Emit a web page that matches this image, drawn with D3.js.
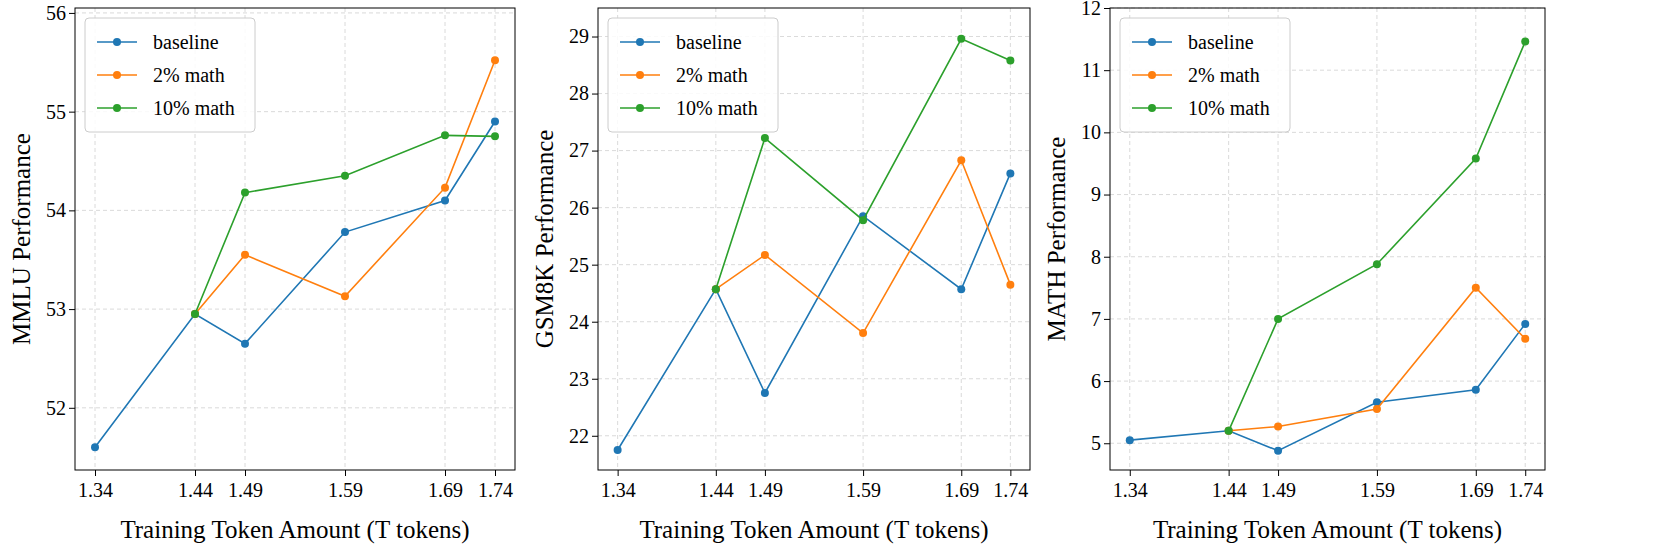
<!DOCTYPE html>
<html><head><meta charset="utf-8">
<script src="https://cdn.jsdelivr.net/npm/d3@7"></script>
<style>body{margin:0;background:#fff}text{font-family:"Liberation Serif","DejaVu Serif",serif}</style>
</head><body><svg id="c" width="1661" height="554"></svg>
<script>
const tokens = [1.34, 1.44, 1.49, 1.59, 1.69, 1.74];
const tickLabels = ['1.34', '1.44', '1.49', '1.59', '1.69', '1.74'];
const seriesNames = ['baseline', '2% math', '10% math'];
const colors = ['#1f77b4', '#ff7f0e', '#2ca02c'];

const mmluBase = [51.6, 52.95, 52.65, 53.78, 54.1, 54.9];
const mmlu2 = [null, 52.95, 53.55, 53.13, 54.23, 55.52];
const mmlu10 = [null, 52.95, 54.18, 54.35, 54.76, 54.75];
const gsmBase = [21.75, 24.57, 22.75, 25.85, 24.57, 26.6];
const gsm2 = [null, 24.57, 25.17, 23.8, 26.83, 24.65];
const gsm10 = [null, 24.57, 27.22, 25.78, 28.96, 28.58];
const mathBase = [5.05, 5.2, 4.88, 5.66, 5.86, 6.92];
const math2 = [null, 5.2, 5.27, 5.55, 7.5, 6.68];
const math10 = [null, 5.2, 7.0, 7.88, 9.58, 11.46];

const panels = [
  {label: 'MMLU Performance', series: [mmluBase, mmlu2, mmlu10], dom: [51.37, 56.05], ticks: [52, 53, 54, 55, 56], left: 75, right: 515},
  {label: 'GSM8K Performance', series: [gsmBase, gsm2, gsm10], dom: [21.4, 29.5], ticks: [22, 23, 24, 25, 26, 27, 28, 29], left: 598, right: 1030},
  {label: 'MATH Performance', series: [mathBase, math2, math10], dom: [4.57, 12.0], ticks: [5, 6, 7, 8, 9, 10, 11, 12], left: 1110, right: 1545}
];

const svg = d3.select('#c');
const plotTop = 8, plotBottom = 470;

panels.forEach(p => {
  const x = d3.scaleLinear().domain([1.32, 1.76]).range([p.left, p.right]);
  const y = d3.scaleLinear().domain(p.dom).range([plotBottom, plotTop]);
  const g = svg.append('g');

  // grid
  g.selectAll('.gx').data(tokens).join('line')
    .attr('x1', d => x(d)).attr('x2', d => x(d)).attr('y1', plotTop).attr('y2', plotBottom)
    .attr('stroke', '#d0d0d0').attr('stroke-dasharray', '4,3').attr('stroke-width', 0.8);
  g.selectAll('.gy').data(p.ticks).join('line')
    .attr('x1', p.left).attr('x2', p.right).attr('y1', d => y(d)).attr('y2', d => y(d))
    .attr('stroke', '#d0d0d0').attr('stroke-dasharray', '4,3').attr('stroke-width', 0.8);

  const xa = g.append('g').attr('transform', `translate(0,${plotBottom})`)
    .call(d3.axisBottom(x).tickValues(tokens).tickFormat((d, i) => tickLabels[i]).tickSizeOuter(0));
  const ya = g.append('g').attr('transform', `translate(${p.left},0)`)
    .call(d3.axisLeft(y).tickValues(p.ticks).tickFormat(d3.format('d')).tickSizeOuter(0));
  [xa, ya].forEach(a => { a.selectAll('text').style('font-size', '20px').attr('fill', '#000'); a.select('.domain').remove(); });
  xa.selectAll('text').attr('dy', '0.9em');

  g.append('rect').attr('x', p.left).attr('y', plotTop).attr('width', p.right - p.left).attr('height', plotBottom - plotTop)
    .attr('fill', 'none').attr('stroke', '#000').attr('stroke-width', 1);

  const line = d3.line().x(d => x(d[0])).y(d => y(d[1]));
  p.series.forEach((s, i) => {
    const pts = tokens.map((t, j) => [t, s[j]]).filter(d => d[1] != null);
    g.append('path').datum(pts).attr('fill', 'none').attr('stroke', colors[i]).attr('stroke-width', 1.6).attr('d', line);
    g.selectAll(null).data(pts).join('circle').attr('cx', d => x(d[0])).attr('cy', d => y(d[1])).attr('r', 4).attr('fill', colors[i]);
  });

  // legend
  const lg = g.append('g').attr('transform', `translate(${p.left + 10},${plotTop + 10})`);
  lg.append('rect').attr('width', 170).attr('height', 114).attr('rx', 4).attr('fill', '#fff').attr('fill-opacity', 0.85).attr('stroke', '#ccc');
  seriesNames.forEach((n, i) => {
    const yy = 24 + i * 33;
    lg.append('line').attr('x1', 12).attr('x2', 52).attr('y1', yy).attr('y2', yy).attr('stroke', colors[i]).attr('stroke-width', 1.6);
    lg.append('circle').attr('cx', 32).attr('cy', yy).attr('r', 4).attr('fill', colors[i]);
    lg.append('text').attr('x', 68).attr('y', yy).attr('dy', '0.35em').style('font-size', '20px').text(n);
  });

  svg.append('text').attr('x', (p.left + p.right) / 2).attr('y', 538).attr('text-anchor', 'middle')
    .style('font-size', '25px').text('Training Token Amount (T tokens)');
  svg.append('text').attr('transform', `translate(${p.left - 45},${(plotTop + plotBottom) / 2}) rotate(-90)`)
    .attr('text-anchor', 'middle').style('font-size', '25px').text(p.label);
});
</script></body></html>
